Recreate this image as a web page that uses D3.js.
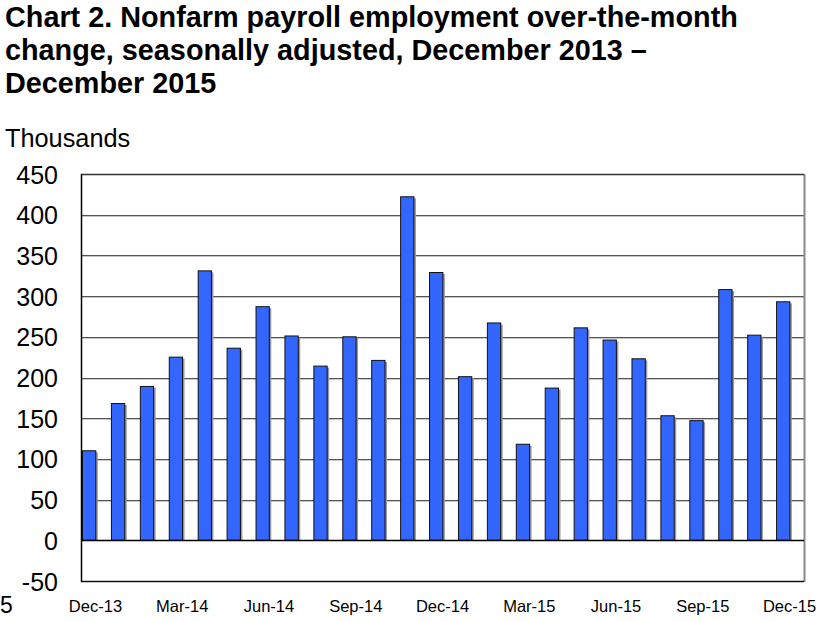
<!DOCTYPE html>
<html><head><meta charset="utf-8">
<script src="https://cdn.jsdelivr.net/npm/d3@7"></script>
<style>body{margin:0;background:#fff}svg{display:block}text{font-family:Arial,"Liberation Sans",sans-serif}</style>
</head><body>
<svg id="c" width="821" height="621"></svg>
<script>
const months = ["Dec-13","Jan-14","Feb-14","Mar-14","Apr-14","May-14","Jun-14","Jul-14","Aug-14","Sep-14","Oct-14","Nov-14","Dec-14","Jan-15","Feb-15","Mar-15","Apr-15","May-15","Jun-15","Jul-15","Aug-15","Sep-15","Oct-15","Nov-15","Dec-15"];
const changes = [110,168,189,225,331,236,287,251,214,250,221,422,329,201,267,118,187,261,246,223,153,147,308,252,293];
const yTicks = [-50,0,50,100,150,200,250,300,350,400,450];
const xTickLabels = ["Dec-13","Mar-14","Jun-14","Sep-14","Dec-14","Mar-15","Jun-15","Sep-15","Dec-15"];
const titleLines = ["Chart 2. Nonfarm payroll employment over-the-month","change, seasonally adjusted, December 2013 \u2013","December 2015"];

const svg = d3.select("#c");
const L=81, R=804, T=174, B=581;
const x = d3.scaleBand().domain(months).range([L,R]).paddingInner(0).paddingOuter(0);
const y = d3.scaleLinear().domain([-50,450]).range([B,T]);

// title
svg.append("g").selectAll("text").data(titleLines).join("text")
  .attr("x",5).attr("y",(d,i)=>27+i*33)
  .attr("font-size",28.8).attr("font-weight","bold").attr("fill","#000").text(d=>d);
svg.append("text").attr("x",5).attr("y",147).attr("font-size",25.3).text("Thousands");

// gridlines
const grid = yTicks.filter(v=>v!==-50 && v!==0 && v!==450);
svg.append("g").selectAll("line").data(grid).join("line")
  .attr("x1",L).attr("x2",R).attr("y1",d=>Math.round(y(d))+1.5).attr("y2",d=>Math.round(y(d))+1.5)
  .attr("stroke","#c8c8c8").attr("stroke-width",1);
svg.append("g").selectAll("line").data(grid).join("line")
  .attr("x1",L).attr("x2",R).attr("y1",d=>Math.round(y(d))+0.5).attr("y2",d=>Math.round(y(d))+0.5)
  .attr("stroke","#555").attr("stroke-width",1);

// frame
svg.append("line").attr("x1",R+0.5).attr("x2",R+0.5).attr("y1",T).attr("y2",B+1).attr("stroke","#888").attr("stroke-width",2);
svg.append("line").attr("x1",L).attr("x2",R).attr("y1",T+0.5).attr("y2",T+0.5).attr("stroke","#333").attr("stroke-width",1.5);
svg.append("line").attr("x1",L).attr("x2",R).attr("y1",B+0.5).attr("y2",B+0.5).attr("stroke","#111").attr("stroke-width",1.5);

// bars (shadow + bar)
const bw = x.bandwidth()*0.46;
const bars = svg.append("g");
bars.selectAll("rect.s").data(changes).join("rect").attr("class","s")
  .attr("x",(d,i)=>x(months[i])+1.5+2).attr("y",d=>y(d)+1.5)
  .attr("width",bw).attr("height",d=>y(0)-y(d)-1.5).attr("fill","#9a9a9a");
bars.selectAll("rect.b").data(changes).join("rect").attr("class","b")
  .attr("x",(d,i)=>x(months[i])+1.5).attr("y",d=>y(d))
  .attr("width",bw).attr("height",d=>y(0)-y(d))
  .attr("fill","#3366ff").attr("stroke","#111").attr("stroke-width",1);

// zero line and left axis
svg.append("line").attr("x1",L).attr("x2",R).attr("y1",Math.round(y(0))+0.5).attr("y2",Math.round(y(0))+0.5).attr("stroke","#000").attr("stroke-width",1.5);
svg.append("line").attr("x1",L+0.5).attr("x2",L+0.5).attr("y1",T).attr("y2",B+1).attr("stroke","#000").attr("stroke-width",1.5);

// y axis labels
const yAxis = d3.axisLeft(y).tickValues(yTicks).tickSize(0).tickPadding(0).tickFormat(d=>String(d));
const yg = svg.append("g").attr("transform",`translate(58,0)`).call(yAxis);
yg.select(".domain").remove();
yg.selectAll("text").attr("font-size",25).attr("font-family","Arial, 'Liberation Sans', sans-serif").attr("fill","#000").attr("dy","0.36em");

// x axis labels
const xAxis = d3.axisBottom(x).tickValues(xTickLabels).tickSize(0).tickPadding(0);
const xg = svg.append("g").attr("transform",`translate(0,612)`).call(xAxis);
xg.select(".domain").remove();
xg.selectAll("text").attr("font-size",16.5).attr("font-family","Arial, 'Liberation Sans', sans-serif").attr("fill","#000").attr("dy","0");

// stray label at the bottom-left corner
svg.append("text").attr("x",0).attr("y",613).attr("text-anchor","start").attr("font-size",23).text("5");
</script>
</body></html>
